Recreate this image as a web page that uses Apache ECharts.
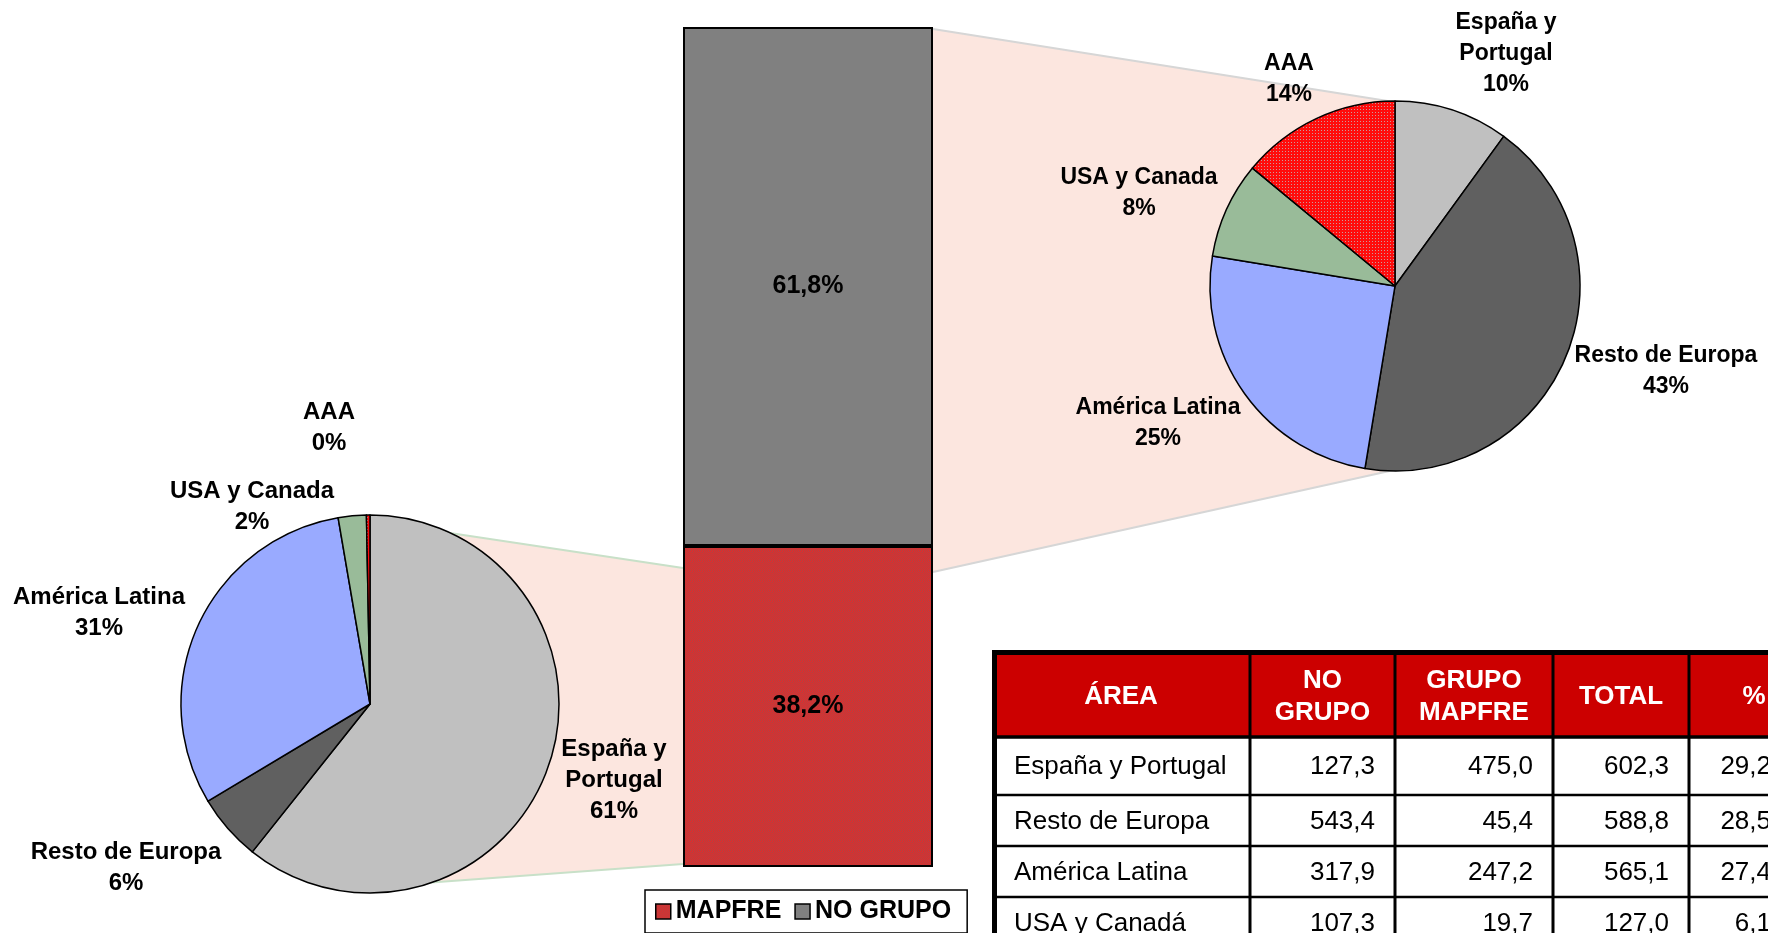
<!DOCTYPE html>
<html><head><meta charset="utf-8">
<script src="https://cdn.jsdelivr.net/npm/echarts@6/dist/echarts.min.js"></script>
<style>html,body{margin:0;padding:0;background:#fff;overflow:hidden}#c{width:1768px;height:933px}</style>
</head><body><div id="c"></div>
<script>
// ---------- DATA ----------
const pieCategories = ['España y\nPortugal', 'Resto de Europa', 'América Latina', 'USA y Canada', 'AAA'];
const mapfreShare = [60.7, 5.7, 30.9, 2.4, 0.3];     // left pie (GRUPO MAPFRE)
const noGrupoShare = [10.0, 42.6, 25.0, 8.4, 14.0];  // right pie (NO GRUPO)
const barCategories = ['Total'];
const barMapfre = [38.2];
const barNoGrupo = [61.8];
const seriesNames = ['MAPFRE', 'NO GRUPO'];
const tableHeaders = ['ÁREA', 'NO\nGRUPO', 'GRUPO\nMAPFRE', 'TOTAL', '%'];
const tableAreas = ['España y Portugal', 'Resto de Europa', 'América Latina', 'USA y Canadá'];
const tableNoGrupo = [127.3, 543.4, 317.9, 107.3];
const tableGrupoMapfre = [475.0, 45.4, 247.2, 19.7];
const tableTotal = [602.3, 588.8, 565.1, 127.0];
const tablePct = [29.2, 28.5, 27.4, 6.1];

// ---------- LAYOUT / STYLE ----------
const FONT = "'Liberation Sans', Arial, Helvetica, sans-serif";
const fmt = v => v.toFixed(1).replace('.', ',');
function pattern(size, base, dots) {
  const c = document.createElement('canvas');
  c.width = c.height = size;
  const g = c.getContext('2d');
  g.fillStyle = base; g.fillRect(0, 0, size, size);
  dots.forEach(d => { g.fillStyle = d[2]; g.fillRect(d[0], d[1], 1, 1); });
  return { image: c, repeat: 'repeat' };
}
const mapfreFill = pattern(2, '#EE2424', [[0, 0, '#A84848'], [1, 1, '#A84848']]);
const aaaFill = pattern(3, '#FF0C0C', [[1, 1, '#C99A9A']]);
const sliceColors = ['#C0C0C0', '#606060', '#99AAFF', '#99BB99', aaaFill];

const BAR = { left: 683, top: 27, width: 250, height: 840 };
const PIE_L = { c: [370, 704], r: 189 };
const PIE_R = { c: [1395, 286], r: 185 };
const LEFT_LABEL_POS = [[614, 780], [126, 868], [99, 613], [252, 507], [329, 428]];
const RIGHT_LABEL_POS = [[1506, 54], [1666, 371], [1158, 423], [1139, 193], [1289, 79]];

// connectors (decoration between pies and bar)
const PINK = '#FCE6DF';
const leftPoly = [[370, 521], [BAR.left, 568], [BAR.left, 864], [370, 887]];
const rightPoly = [[BAR.left + BAR.width, 29], [1394, 102], [1394, 470], [BAR.left + BAR.width, 572]];

const graphics = [];
graphics.push({ type: 'polygon', z: 0, shape: { points: leftPoly }, style: { fill: PINK } });
graphics.push({ type: 'polygon', z: 0, shape: { points: rightPoly }, style: { fill: PINK } });
graphics.push({ type: 'line', z: 1, shape: { x1: leftPoly[0][0], y1: leftPoly[0][1], x2: leftPoly[1][0], y2: leftPoly[1][1] }, style: { stroke: '#C8E0C8', lineWidth: 2 } });
graphics.push({ type: 'line', z: 1, shape: { x1: leftPoly[3][0], y1: leftPoly[3][1], x2: leftPoly[2][0], y2: leftPoly[2][1] }, style: { stroke: '#C8E0C8', lineWidth: 2 } });
graphics.push({ type: 'line', z: 1, shape: { x1: rightPoly[0][0], y1: rightPoly[0][1], x2: rightPoly[1][0], y2: rightPoly[1][1] }, style: { stroke: '#D6D6D6', lineWidth: 2 } });
graphics.push({ type: 'line', z: 1, shape: { x1: rightPoly[3][0], y1: rightPoly[3][1], x2: rightPoly[2][0], y2: rightPoly[2][1] }, style: { stroke: '#D6D6D6', lineWidth: 2 } });

// ---------- TABLE ----------
const T = { left: 992, top: 650, colW: [258, 145, 158, 136, 130], headerH: 87, rowH: [58, 51, 51, 51, 51] };
const colX = [T.left]; T.colW.forEach(w => colX.push(colX[colX.length - 1] + w));
const rowY = [T.top + T.headerH]; T.rowH.forEach(h => rowY.push(rowY[rowY.length - 1] + h));
const tableRight = colX[colX.length - 1];
const tableBottom = rowY[rowY.length - 1];
graphics.push({ type: 'rect', z: 1, shape: { x: T.left, y: T.top, width: tableRight - T.left, height: T.headerH }, style: { fill: '#CC0000' } });
rowY.forEach((y, i) => graphics.push({ type: 'line', z: 2, shape: { x1: T.left, y1: y, x2: tableRight, y2: y }, style: { stroke: '#000', lineWidth: i === 0 ? 3.5 : 2.5 } }));
colX.slice(1).forEach(x => graphics.push({ type: 'line', z: 2, shape: { x1: x, y1: T.top, x2: x, y2: tableBottom }, style: { stroke: '#000', lineWidth: 3 } }));
graphics.push({ type: 'rect', z: 3, shape: { x: T.left, y: T.top, width: tableRight - T.left, height: 5 }, style: { fill: '#000' } });
graphics.push({ type: 'rect', z: 3, shape: { x: T.left, y: T.top, width: 5, height: tableBottom - T.top }, style: { fill: '#000' } });
function txt(text, x, y, align, opts) {
  return { type: 'text', z: 4, x: x, y: y,
    style: { text: text, fill: opts.fill || '#000', font: (opts.weight || 'normal') + ' 26px ' + FONT,
      fontSize: 26, fontWeight: opts.weight || 'normal', fontFamily: FONT,
      align: align, textAlign: align, verticalAlign: 'middle', textVerticalAlign: 'middle', lineHeight: 32 } };
}
const headerMid = T.top + 3 + T.headerH / 2;
tableHeaders.forEach((h, i) => graphics.push(txt(h, (colX[i] + colX[i + 1]) / 2, headerMid, 'center', { fill: '#fff', weight: 'bold' })));
const numCols = [tableNoGrupo, tableGrupoMapfre, tableTotal];
tableAreas.forEach((a, r) => {
  const cy = (rowY[r] + rowY[r + 1]) / 2 + 1;
  graphics.push(txt(a, colX[0] + 22, cy, 'left', {}));
  numCols.forEach((arr, k) => graphics.push(txt(fmt(arr[r]), colX[k + 2] - 20, cy, 'right', {})));
  graphics.push(txt(fmt(tablePct[r]), colX[4] + 82, cy, 'right', {}));
});

// ---------- CHART ----------
const pieLabel = (fs) => ({ show: true, position: 'outside', formatter: '{b}\n{d}%', color: '#000',
  fontSize: fs, fontWeight: 'bold', fontFamily: FONT, lineHeight: 31, align: 'center' });
const layoutFrom = (pos) => (params) => ({ x: pos[params.dataIndex][0], y: pos[params.dataIndex][1], align: 'center', verticalAlign: 'middle' });

const chart = echarts.init(document.getElementById('c'), null, { renderer: 'canvas' });
chart.setOption({
  animation: false,
  backgroundColor: '#fff',
  textStyle: { fontFamily: FONT },
  graphic: { elements: graphics },
  legend: {
    data: seriesNames, left: 645, top: 890, orient: 'horizontal',
    borderColor: '#000', borderWidth: 1.5, padding: [9, 16, 9, 10],
    itemWidth: 15, itemHeight: 15, itemGap: 13, icon: 'rect',
    itemStyle: { borderColor: '#000', borderWidth: 1.5 },
    textStyle: { fontSize: 25, fontWeight: 'bold', color: '#000', fontFamily: FONT }
  },
  grid: { left: BAR.left, top: BAR.top, width: BAR.width, height: BAR.height },
  xAxis: { type: 'category', data: barCategories, show: false },
  yAxis: { type: 'value', min: 0, max: 100, show: false },
  series: [
    { name: seriesNames[0], type: 'bar', stack: 'tot', data: barMapfre, barWidth: '100%', z: 3,
      itemStyle: { color: mapfreFill, borderColor: '#000', borderWidth: 2 },
      label: { show: true, position: 'inside', formatter: p => fmt(p.value) + '%', fontSize: 25, fontWeight: 'bold', color: '#000', fontFamily: FONT },
      emphasis: { disabled: true } },
    { name: seriesNames[1], type: 'bar', stack: 'tot', data: barNoGrupo, barWidth: '100%', z: 3,
      itemStyle: { color: '#808080', borderColor: '#000', borderWidth: 2 },
      label: { show: true, position: 'inside', formatter: p => fmt(p.value) + '%', fontSize: 25, fontWeight: 'bold', color: '#000', fontFamily: FONT },
      emphasis: { disabled: true } },
    { name: 'GRUPO MAPFRE', type: 'pie', center: PIE_L.c, radius: PIE_L.r, startAngle: 90, clockwise: true,
      percentPrecision: 0, avoidLabelOverlap: false, z: 3,
      itemStyle: { borderColor: '#000', borderWidth: 1.5 },
      label: pieLabel(24), labelLine: { show: false }, labelLayout: layoutFrom(LEFT_LABEL_POS),
      emphasis: { disabled: true },
      data: pieCategories.map((n, i) => ({ name: n, value: mapfreShare[i], itemStyle: { color: sliceColors[i] } })) },
    { name: 'NO GRUPO pie', type: 'pie', center: PIE_R.c, radius: PIE_R.r, startAngle: 90, clockwise: true,
      percentPrecision: 0, avoidLabelOverlap: false, z: 3,
      itemStyle: { borderColor: '#000', borderWidth: 1.5 },
      label: pieLabel(23), labelLine: { show: false }, labelLayout: layoutFrom(RIGHT_LABEL_POS),
      emphasis: { disabled: true },
      data: pieCategories.map((n, i) => ({ name: n, value: noGrupoShare[i], itemStyle: { color: sliceColors[i] } })) }
  ]
});
</script></body></html>
